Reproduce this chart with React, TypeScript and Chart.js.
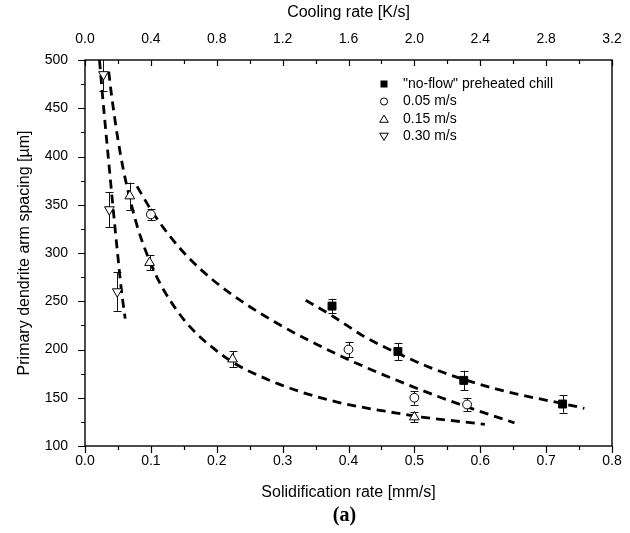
import React, { useEffect, useRef } from "react";
import { Chart, registerables } from "chart.js";

Chart.register(...registerables);

// ---- texts ----
const xTitle = "Solidification rate [mm/s]";
const x2Title = "Cooling rate [K/s]";
const yTitle = "Primary dendrite arm spacing [µm]";
const panelLabel = "(a)";
const seriesLabels = ['"no-flow" preheated chill', "0.05 m/s", "0.15 m/s", "0.30 m/s"];

// ---- measured points (solidification rate [mm/s], PDAS [µm], error) ----
const noFlowRate = [0.375, 0.475, 0.575, 0.725];
const noFlowPdas = [245, 198, 168, 143.5];
const noFlowErr = [7.5, 9, 10, 9];

const v005Rate = [0.1, 0.4, 0.5, 0.58];
const v005Pdas = [340, 200, 150, 143];
const v005Err = [6, 8, 7, 7];

const v015Rate = [0.068, 0.098, 0.224, 0.5];
const v015Pdas = [359, 290, 190, 130];
const v015Err = [14, 8, 8, 5];

const v030Rate = [0.028, 0.037, 0.049];
const v030Pdas = [485, 345, 260];
const v030Err = [17, 18, 20];

// ---- dashed fit curves ----
const fitNoFlowX = [0.335, 0.375, 0.425, 0.475, 0.525, 0.575, 0.625, 0.675, 0.725, 0.758];
const fitNoFlowY = [251, 235, 213, 196, 181, 169, 159, 151, 144, 139];

const fit005X = [0.079, 0.1, 0.127, 0.156, 0.196, 0.241, 0.287, 0.338, 0.389, 0.44, 0.49, 0.541, 0.58, 0.612, 0.652];
const fit005Y = [369, 345, 319, 296, 271, 248.5, 229, 210, 193, 177.5, 163.5, 150, 140.5, 133, 124];

const fit015X = [0.036, 0.04, 0.043, 0.049, 0.058, 0.069, 0.08, 0.09, 0.1, 0.112, 0.13, 0.15, 0.17, 0.19, 0.226, 0.277, 0.328, 0.38, 0.414, 0.465, 0.511, 0.561, 0.607];
const fit015Y = [488, 465, 450, 422, 387, 354, 326, 306, 289, 271, 250, 231, 216, 204, 186, 169, 156, 146, 141, 135, 130, 126, 122.5];

const fit030X = [0.022, 0.026, 0.03, 0.034, 0.038, 0.042, 0.046, 0.05, 0.055, 0.061];
const fit030Y = [500, 468, 438, 409, 380, 351, 323, 296, 263, 232];

// ---- axes ----
const xMin = 0, xMax = 0.8, xStep = 0.1;
const x2Min = 0, x2Max = 3.2, x2Step = 0.4;
const yMin = 100, yMax = 500, yStep = 50;

const FONT = "'Liberation Sans', Arial, Helvetica, sans-serif";

const pts = (xs: number[], ys: number[]) => xs.map((x, i) => ({ x, y: ys[i] }));

export default function App() {
  const ref = useRef<HTMLCanvasElement>(null);

  useEffect(() => {
    const canvas = ref.current;
    if (!canvas) return;

    const errorBars = {
      id: "errorBars",
      beforeDatasetsDraw(chart: any) {
        const { ctx, chartArea, scales } = chart;
        ctx.save();
        ctx.beginPath();
        ctx.rect(chartArea.left, chartArea.top, chartArea.right - chartArea.left, chartArea.bottom - chartArea.top);
        ctx.clip();
        ctx.strokeStyle = "#111";
        ctx.lineWidth = 1;
        chart.data.datasets.forEach((ds: any) => {
          if (!ds.errors) return;
          ds.data.forEach((p: any, i: number) => {
            const e = ds.errors[i];
            const px = Math.round(scales.x.getPixelForValue(p.x)) + 0.5;
            const t = scales.y.getPixelForValue(p.y + e);
            const b = scales.y.getPixelForValue(p.y - e);
            ctx.beginPath();
            ctx.moveTo(px, t);
            ctx.lineTo(px, b);
            ctx.moveTo(px - 4, Math.round(t) + 0.5);
            ctx.lineTo(px + 4, Math.round(t) + 0.5);
            ctx.moveTo(px - 4, Math.round(b) + 0.5);
            ctx.lineTo(px + 4, Math.round(b) + 0.5);
            ctx.stroke();
          });
        });
        ctx.restore();
      },
    };

    const drawMarker = (ctx: CanvasRenderingContext2D, kind: number, x: number, y: number) => {
      ctx.beginPath();
      ctx.lineWidth = 1;
      ctx.strokeStyle = "#000";
      if (kind === 0) {
        ctx.fillStyle = "#000";
        ctx.fillRect(x - 3.5, y - 3.5, 7, 7);
        return;
      }
      ctx.fillStyle = "#fff";
      if (kind === 1) {
        ctx.arc(x, y, 3.6, 0, Math.PI * 2);
      } else if (kind === 2) {
        ctx.moveTo(x, y - 4);
        ctx.lineTo(x + 4.3, y + 3.3);
        ctx.lineTo(x - 4.3, y + 3.3);
        ctx.closePath();
      } else {
        ctx.moveTo(x, y + 4);
        ctx.lineTo(x + 4.3, y - 3.3);
        ctx.lineTo(x - 4.3, y - 3.3);
        ctx.closePath();
      }
      ctx.fill();
      ctx.stroke();
    };

    const frameAndTicks = {
      id: "frameAndTicks",
      afterDraw(chart: any) {
        const { ctx, chartArea, scales } = chart;
        const { left, right, top, bottom } = chartArea;
        ctx.save();
        ctx.strokeStyle = "#000";
        ctx.lineWidth = 1.4;
        ctx.strokeRect(left, top, right - left, bottom - top);

        ctx.lineWidth = 1.2;
        ctx.beginPath();
        // left axis ticks (outward)
        for (let i = 0; i <= (yMax - yMin) / (yStep / 2); i++) {
          const v = yMin + (i * yStep) / 2;
          const py = Math.round(scales.y.getPixelForValue(v)) + 0.5;
          const len = i % 2 === 0 ? 7 : 4;
          ctx.moveTo(left - len, py);
          ctx.lineTo(left, py);
        }
        // bottom axis ticks (outward)
        for (let i = 0; i <= Math.round((xMax - xMin) / (xStep / 2)); i++) {
          const v = xMin + (i * xStep) / 2;
          const px = Math.round(scales.x.getPixelForValue(v)) + 0.5;
          const len = i % 2 === 0 ? 7 : 4;
          ctx.moveTo(px, bottom);
          ctx.lineTo(px, bottom + len);
        }
        // top axis ticks (inward)
        for (let i = 0; i <= Math.round((x2Max - x2Min) / (x2Step / 2)); i++) {
          const v = x2Min + (i * x2Step) / 2;
          const px = Math.round(scales.x2.getPixelForValue(v)) + 0.5;
          const len = i % 2 === 0 ? 6 : 4;
          ctx.moveTo(px, top);
          ctx.lineTo(px, top + len);
        }
        ctx.stroke();

        // legend
        const lx = right - 228;
        const ly = top + 24;
        ctx.font = `14px ${FONT}`;
        ctx.textBaseline = "middle";
        ctx.textAlign = "left";
        seriesLabels.forEach((lab, i) => {
          const yy = ly + i * 17.5;
          drawMarker(ctx, i, lx, yy);
          ctx.fillStyle = "#000";
          ctx.fillText(lab, lx + 19, yy);
        });

        // panel label
        ctx.font = `bold 20px 'Liberation Serif', 'Times New Roman', serif`;
        ctx.textAlign = "center";
        ctx.fillStyle = "#000";
        ctx.fillText(panelLabel, (left + right) / 2 - 4, 516);
        ctx.restore();
      },
    };

    const lineDs = (xs: number[], ys: number[]) => ({
      type: "line" as const,
      data: pts(xs, ys),
      showLine: true,
      borderColor: "#000",
      borderWidth: 2.8,
      borderDash: [9, 6],
      borderCapStyle: "butt" as const,
      pointRadius: 0,
      fill: false,
      cubicInterpolationMode: "monotone" as const,
      order: 2,
      xAxisID: "x",
      yAxisID: "y",
    });

    const chart = new Chart(canvas, {
      type: "scatter",
      data: {
        datasets: [
          lineDs(fitNoFlowX, fitNoFlowY),
          lineDs(fit005X, fit005Y),
          lineDs(fit015X, fit015Y),
          lineDs(fit030X, fit030Y),
          {
            label: seriesLabels[0],
            data: pts(noFlowRate, noFlowPdas),
            errors: noFlowErr,
            pointStyle: "rect",
            pointRadius: 5.6,
            backgroundColor: "#000",
            borderColor: "#000",
            borderWidth: 1,
            order: 0,
          } as any,
          {
            label: seriesLabels[1],
            data: pts(v005Rate, v005Pdas),
            errors: v005Err,
            pointStyle: "circle",
            pointRadius: 4.4,
            backgroundColor: "#fff",
            borderColor: "#000",
            borderWidth: 1,
            order: 0,
          } as any,
          {
            label: seriesLabels[2],
            data: pts(v015Rate, v015Pdas),
            errors: v015Err,
            pointStyle: "triangle",
            pointRadius: 5.6,
            backgroundColor: "#fff",
            borderColor: "#000",
            borderWidth: 1,
            order: 0,
          } as any,
          {
            label: seriesLabels[3],
            data: pts(v030Rate, v030Pdas),
            errors: v030Err,
            pointStyle: "triangle",
            rotation: 180,
            pointRotation: 180,
            pointRadius: 5.6,
            backgroundColor: "#fff",
            borderColor: "#000",
            borderWidth: 1,
            order: 0,
          } as any,
        ],
      },
      options: {
        responsive: false,
        animation: false,
        devicePixelRatio: 1,
        layout: { padding: { left: 0, right: 18, top: 0, bottom: 0 } },
        plugins: {
          legend: { display: false },
          tooltip: { enabled: false },
        },
        scales: {
          x: {
            type: "linear",
            position: "bottom",
            min: xMin,
            max: xMax,
            ticks: {
              stepSize: xStep,
              color: "#000",
              font: { family: FONT, size: 14 },
              padding: 7,
              maxRotation: 0,
              autoSkip: false,
              callback: (v: any) => Number(v).toFixed(1),
            },
            grid: { drawOnChartArea: false, drawTicks: false },
            border: { display: false },
            title: {
              display: true,
              text: xTitle,
              color: "#000",
              font: { family: FONT, size: 16 },
              padding: { top: 0, bottom: 31 },
            },
            afterFit: (s: any) => {
              s.height = 87;
              s.paddingLeft = 0;
              s.paddingRight = 0;
            },
          },
          x2: {
            type: "linear",
            position: "top",
            min: x2Min,
            max: x2Max,
            ticks: {
              stepSize: x2Step,
              color: "#000",
              font: { family: FONT, size: 14 },
              padding: 12,
              maxRotation: 0,
              autoSkip: false,
              callback: (v: any) => Number(v).toFixed(1),
            },
            grid: { drawOnChartArea: false, drawTicks: false },
            border: { display: false },
            title: {
              display: true,
              text: x2Title,
              color: "#000",
              font: { family: FONT, size: 16 },
              padding: { top: 3, bottom: 0 },
            },
            afterFit: (s: any) => {
              s.height = 60;
              s.paddingLeft = 0;
              s.paddingRight = 0;
            },
          },
          y: {
            type: "linear",
            position: "left",
            min: yMin,
            max: yMax,
            ticks: {
              stepSize: yStep,
              color: "#000",
              font: { family: FONT, size: 14 },
              padding: 17,
              autoSkip: false,
            },
            grid: { drawOnChartArea: false, drawTicks: false },
            border: { display: false },
            title: {
              display: true,
              text: yTitle,
              color: "#000",
              font: { family: FONT, size: 16 },
              padding: { top: 15, bottom: 0 },
            },
            afterFit: (s: any) => {
              s.width = 85;
              s.paddingTop = 0;
              s.paddingBottom = 0;
            },
          },
        },
      } as any,
      plugins: [errorBars, frameAndTicks],
    });

    return () => chart.destroy();
  }, []);

  return (
    <div style={{ position: "absolute", left: 0, top: 0, width: 630, height: 533, background: "#fff" }}>
      <canvas ref={ref} width={630} height={533} style={{ display: "block", width: 630, height: 533 }} />
    </div>
  );
}
